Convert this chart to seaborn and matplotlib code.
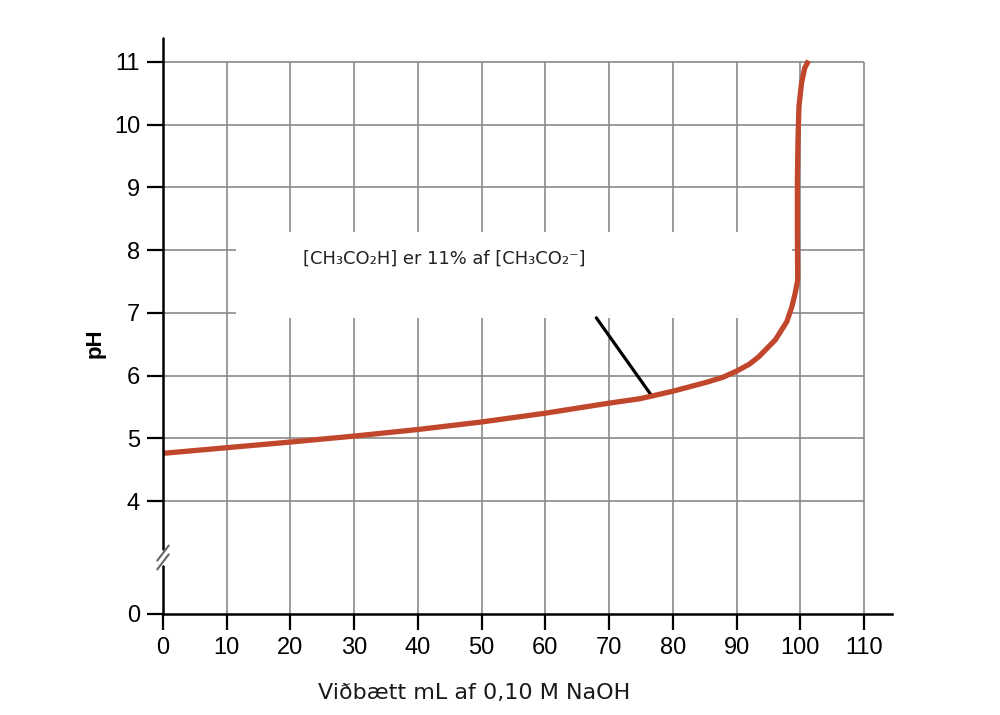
import numpy as np
import pandas as pd
import matplotlib
matplotlib.use('Agg')
import matplotlib.pyplot as plt
import seaborn as sns
from matplotlib.patches import Rectangle

# Titration curve
naoh_ml = [0, 10, 20, 30, 40, 50, 60, 70, 74.8, 77, 80, 82.6, 85.2, 87.8, 90, 92, 93.5,
           96.1, 97.9, 98.7, 99.2, 99.6, 99.55, 99.55, 99.65, 99.8, 100.2, 100.7, 101.3]
ph = [4.76, 4.85, 4.94, 5.035, 5.14, 5.26, 5.40, 5.56, 5.63, 5.68, 5.75, 5.82, 5.89, 5.97,
      6.07, 6.18, 6.30, 6.57, 6.86, 7.10, 7.31, 7.52, 8.3, 9.1, 9.76, 10.29, 10.66, 10.90,
      11.02]

x_ticks = list(range(0, 111, 10))
y_tick_labels = ['0', '4', '5', '6', '7', '8', '9', '10', '11']
note_text = '[CH\u2083CO\u2082H] er 11% af [CH\u2083CO\u2082\u207b]'
x_label = 'Viðbætt mL af 0,10 M NaOH'

# broken y-axis: 0 is drawn at 2.2 on the plot scale, 4..11 stay as they are
zero_pos = 2.2
y_tick_pos = [zero_pos] + list(range(4, 12))

df = pd.DataFrame({'ml': naoh_ml, 'ph': ph})

sns.set_style('white')
plt.rcParams['font.family'] = ['Liberation Sans', 'DejaVu Sans']
plt.rcParams['text.color'] = 'black'
plt.rcParams['xtick.color'] = 'black'
plt.rcParams['ytick.color'] = 'black'

fig = plt.figure(figsize=(10, 7.15), dpi=100)
ax = fig.add_axes([0.163, 0.1413, 0.729, 0.8056])
ax.set_xlim(0, 114.4)
ax.set_ylim(zero_pos, 11.38)

grid_c = '#8a8a8a'
ax.hlines(range(4, 12), 0, 110, color=grid_c, lw=1.2, zorder=1)
ax.vlines(x_ticks[1:], zero_pos, 11, color=grid_c, lw=1.2, zorder=1)

# white box behind the note
ax.add_patch(Rectangle((11.5, 6.92), 87.2, 1.37, facecolor='white', edgecolor='none', zorder=2))

sns.lineplot(data=df, x='ml', y='ph', sort=False, estimator=None, color='#c1472c',
             lw=3.8, ax=ax, zorder=4, solid_capstyle='butt', solid_joinstyle='round')

ax.plot([68.0, 76.6], [6.92, 5.69], color='black', lw=2.3, zorder=3)
ax.text(44.1, 7.86, note_text, family='DejaVu Sans', fontsize=12.9, color='#222222',
        ha='center', va='center', zorder=5)

# spines: bottom kept, left drawn by hand with a break
for s in ['top', 'right', 'left']:
    ax.spines[s].set_visible(False)
ax.spines['bottom'].set_linewidth(1.8)
ax.spines['bottom'].set_color('black')

brk = 3.1
ax.plot([0, 0], [zero_pos, brk - 0.13], color='black', lw=1.8, clip_on=False, zorder=6)
ax.plot([0, 0], [brk + 0.13, 11.38], color='black', lw=1.8, clip_on=False, zorder=6)
for off in (-0.07, 0.07):
    ax.plot([-0.9, 0.9], [brk + off - 0.12, brk + off + 0.12], color='#666666', lw=1.5,
            clip_on=False, zorder=6)

ax.set_xticks(x_ticks)
ax.set_xticklabels([str(v) for v in x_ticks])
ax.set_yticks(y_tick_pos)
ax.set_yticklabels(y_tick_labels)
ax.tick_params(axis='both', direction='out', length=11.5, width=1.6, color='black',
               labelcolor='black', labelsize=17, pad=5, bottom=True, left=True)

ax.set_xlabel(x_label, family='DejaVu Sans', fontsize=16, color='#1a1a1a')
ax.xaxis.set_label_coords((474 - 163) / 729, -(693 - 614) / 576)
ax.set_ylabel('pH', fontsize=16, fontweight='bold', color='black')
ax.yaxis.set_label_coords(-(163 - 95) / 729, (614 - 343) / 576)
ax.xaxis.label.set_va('center')
ax.yaxis.label.set_va('center')

fig.savefig('out.png', dpi=100)
